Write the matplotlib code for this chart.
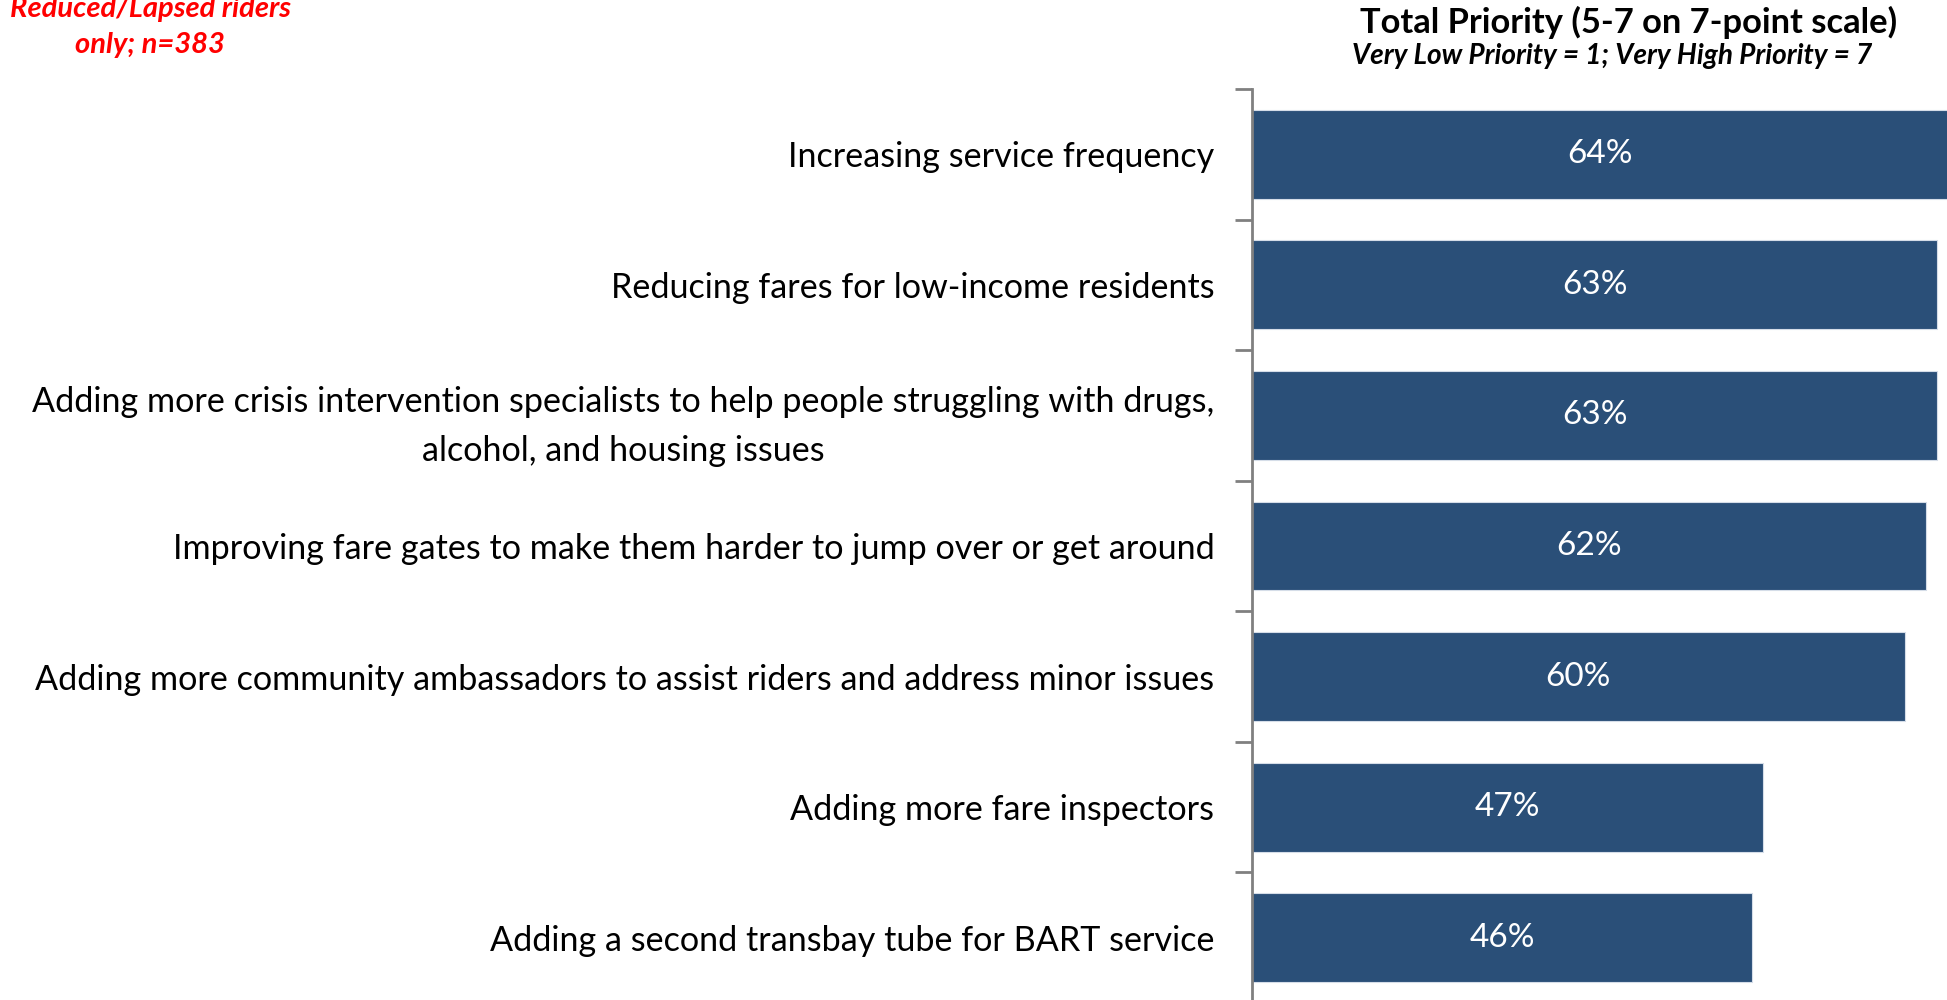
import matplotlib
matplotlib.use("Agg")
import matplotlib.pyplot as plt
import numpy as np

categories = [
    "Increasing service frequency",
    "Reducing fares for low-income residents",
    "Adding more crisis intervention specialists to help people struggling with drugs,\nalcohol, and housing issues",
    "Improving fare gates to make them harder to jump over or get around",
    "Adding more community ambassadors to assist riders and address minor issues",
    "Adding more fare inspectors",
    "Adding a second transbay tube for BART service",
]
values = [64, 63, 63, 62, 60, 47, 46]
value_labels = ["64%", "63%", "63%", "62%", "60%", "47%", "46%"]

title = "Total Priority (5-7 on 7-point scale)"
subtitle = "Very Low Priority = 1; Very High Priority = 7"
note_lines = ["Reduced/Lapsed riders", "only; n=383"]

plt.rcParams['font.family'] = ['Lato', 'DejaVu Sans']

fig = plt.figure(figsize=(19.47, 10), dpi=100)
ax = fig.add_axes([1252/1947, -0.003, 1 - 1252/1947, 0.914])

bar_color = "#2A4F78"
y = np.arange(len(categories))
ax.barh(y, values, height=0.68, color=bar_color, edgecolor="#D5DDE8", linewidth=0.8)
ax.set_ylim(len(categories) - 0.5, -0.5)
ax.set_xlim(0, 63.9)

for yi, v, lab in zip(y, values, value_labels):
    ax.text(v / 2, yi, lab, ha="center", va="center", color="white", fontsize=24)

ax.set_yticks(y)
ax.set_yticklabels(categories, fontsize=24.6)
for t in ax.get_yticklabels():
    t.set_multialignment("center")
    t.set_linespacing(1.62)
ax.tick_params(axis="y", which="major", length=0, pad=27)
ax.set_yticks(np.arange(-0.5, len(categories) + 0.5, 1), minor=True)
ax.tick_params(axis="y", which="minor", length=12, width=2, color="#808080", direction="out")

ax.set_xticks([])
for s in ["top", "right", "bottom"]:
    ax.spines[s].set_visible(False)
ax.spines["left"].set_color("#808080")
ax.spines["left"].set_linewidth(2)

fig.text(1629/1947, 1 - 22/1000, title, ha="center", va="center", fontsize=24.8, fontweight="bold")
fig.text(1612/1947, 1 - 56/1000, subtitle, ha="center", va="center", fontsize=20.2, fontweight="bold", style="italic")
fig.text(150/1947, 1 - 17/1000, note_lines[0], ha="center", va="baseline", fontsize=21, fontweight="bold",
         style="italic", color="#FF0000")
fig.text(150/1947, 1 - 53/1000, note_lines[1], ha="center", va="baseline", fontsize=21, fontweight="bold",
         style="italic", color="#FF0000")

fig.savefig("out.png", dpi=100)
